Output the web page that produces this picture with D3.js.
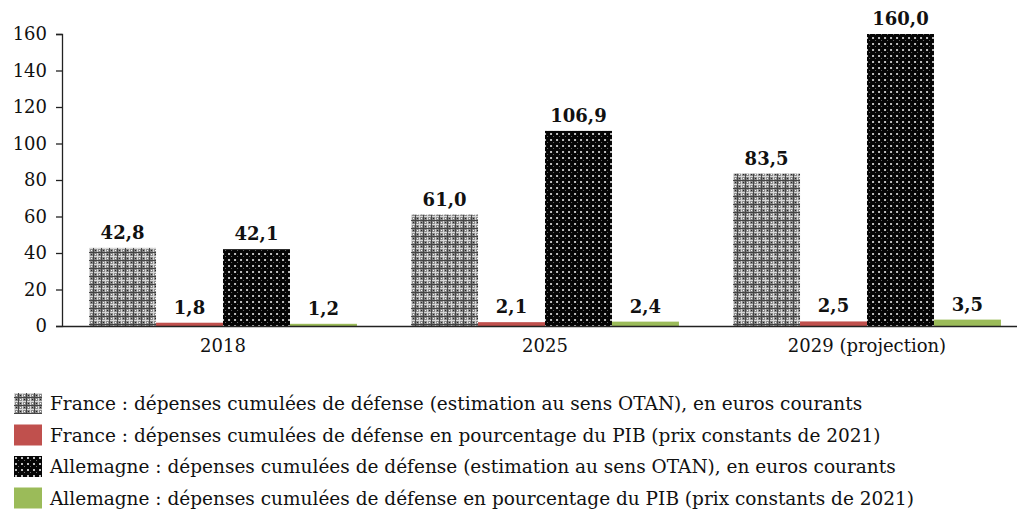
<!DOCTYPE html>
<html>
<head>
<meta charset="utf-8">
<script src="https://cdn.jsdelivr.net/npm/d3@7"></script>
<style>
  body { margin: 0; background: #fff; }
  svg { display: block; }
  text { font-family: "DejaVu Serif", "Liberation Serif", serif; fill: #111; }
</style>
</head>
<body>
<svg id="chart" width="1017" height="513"></svg>
<script>
// Years on the horizontal axis
const categories = ["2018", "2025", "2029 (projection)"];

// Series (one value per year)
const franceEur = [42.8, 61.0, 83.5];
const francePib = [1.8, 2.1, 2.5];
const allemagneEur = [42.1, 106.9, 160.0];
const allemagnePib = [1.2, 2.4, 3.5];

const seriesNames = [
  "France : dépenses cumulées de défense (estimation au sens OTAN), en euros courants",
  "France : dépenses cumulées de défense en pourcentage du PIB (prix constants de 2021)",
  "Allemagne : dépenses cumulées de défense (estimation au sens OTAN), en euros courants",
  "Allemagne : dépenses cumulées de défense en pourcentage du PIB (prix constants de 2021)"
];

const yTicks = [0, 20, 40, 60, 80, 100, 120, 140, 160];

const series = [
  { name: seriesNames[0], values: franceEur, fill: "url(#patFrance)" },
  { name: seriesNames[1], values: francePib, fill: "#c0504d" },
  { name: seriesNames[2], values: allemagneEur, fill: "url(#patAllemagne)" },
  { name: seriesNames[3], values: allemagnePib, fill: "#9bbb59" }
];

const fmt = v => v.toFixed(1).replace(".", ",");
const FONT = "DejaVu Serif, Liberation Serif, serif";

const svg = d3.select("#chart");
const defs = svg.append("defs");

// Grey plaid pattern
const pf = defs.append("pattern").attr("id", "patFrance")
  .attr("patternUnits", "userSpaceOnUse").attr("width", 8).attr("height", 8);
pf.append("rect").attr("width", 8).attr("height", 8).attr("fill", "#8a8a8a");
pf.append("rect").attr("x", 0).attr("y", 0).attr("width", 8).attr("height", 1).attr("fill", "#d8d8d8");
pf.append("rect").attr("x", 0).attr("y", 0).attr("width", 1).attr("height", 8).attr("fill", "#d8d8d8");
pf.append("rect").attr("x", 4).attr("y", 0).attr("width", 1).attr("height", 8).attr("fill", "#444");
pf.append("rect").attr("x", 0).attr("y", 4).attr("width", 8).attr("height", 1).attr("fill", "#444");
pf.append("rect").attr("x", 2).attr("y", 2).attr("width", 1).attr("height", 1).attr("fill", "#fff");
pf.append("rect").attr("x", 6).attr("y", 6).attr("width", 1).attr("height", 1).attr("fill", "#fff");
pf.append("rect").attr("x", 6).attr("y", 2).attr("width", 1).attr("height", 1).attr("fill", "#222");
pf.append("rect").attr("x", 2).attr("y", 6).attr("width", 1).attr("height", 1).attr("fill", "#222");

// Black pattern with white dots
const pa = defs.append("pattern").attr("id", "patAllemagne")
  .attr("patternUnits", "userSpaceOnUse").attr("width", 6).attr("height", 6);
pa.append("rect").attr("width", 6).attr("height", 6).attr("fill", "#050505");
pa.append("rect").attr("x", 1).attr("y", 1).attr("width", 2).attr("height", 2).attr("fill", "#bdbdbd");
pa.append("rect").attr("x", 4).attr("y", 4).attr("width", 1).attr("height", 1).attr("fill", "#6a6a6a");

const x0 = d3.scaleBand().domain(categories).range([62, 1028]).paddingInner(0.168).paddingOuter(0.084);
const x1 = d3.scaleBand().domain(d3.range(series.length)).range([0, x0.bandwidth()]);
const y = d3.scaleLinear().domain([0, 160]).range([326, 34]);

// Bars
const groups = svg.append("g").selectAll("g").data(categories).join("g")
  .attr("transform", d => `translate(${x0(d)},0)`);

groups.each(function(cat, ci) {
  const g = d3.select(this);
  series.forEach((s, si) => {
    const v = s.values[ci];
    g.append("rect")
      .attr("x", x1(si))
      .attr("y", y(v))
      .attr("width", x1.bandwidth())
      .attr("height", y(0) - y(v))
      .attr("fill", s.fill);
    g.append("text")
      .attr("x", x1(si) + x1.bandwidth() / 2)
      .attr("y", y(v) - 9)
      .attr("text-anchor", "middle")
      .attr("font-size", 18)
      .attr("font-weight", "bold")
      .text(fmt(v));
  });
});

// Y axis
const yAxis = svg.append("g").attr("transform", "translate(62,0)")
  .call(d3.axisLeft(y).tickValues(yTicks).tickSize(6).tickPadding(9).tickFormat(d3.format("d")));
yAxis.select(".domain").attr("stroke", "#222").attr("stroke-width", 1.3);
yAxis.selectAll(".tick line").attr("stroke", "#222").attr("stroke-width", 1.3);
yAxis.selectAll(".tick text").attr("font-size", 18).attr("fill", "#111").attr("font-family", FONT);

// X axis
const xAxis = svg.append("g").attr("transform", "translate(0,326)")
  .call(d3.axisBottom(x0.copy().paddingInner(0).paddingOuter(0)).tickSize(0).tickPadding(13));
xAxis.select(".domain").attr("stroke", "#222").attr("stroke-width", 1.3);
xAxis.selectAll(".tick text").attr("font-size", 18).attr("fill", "#111").attr("font-family", FONT);

// Legend
const legend = svg.append("g").selectAll("g").data(series).join("g")
  .attr("transform", (d, i) => `translate(14,${393 + i * 31.5})`);
legend.append("rect").attr("width", 28).attr("height", 21).attr("fill", d => d.fill);
legend.append("text").attr("x", 36).attr("y", 17).attr("font-size", 18.5).text(d => d.name);
</script>
</body>
</html>
